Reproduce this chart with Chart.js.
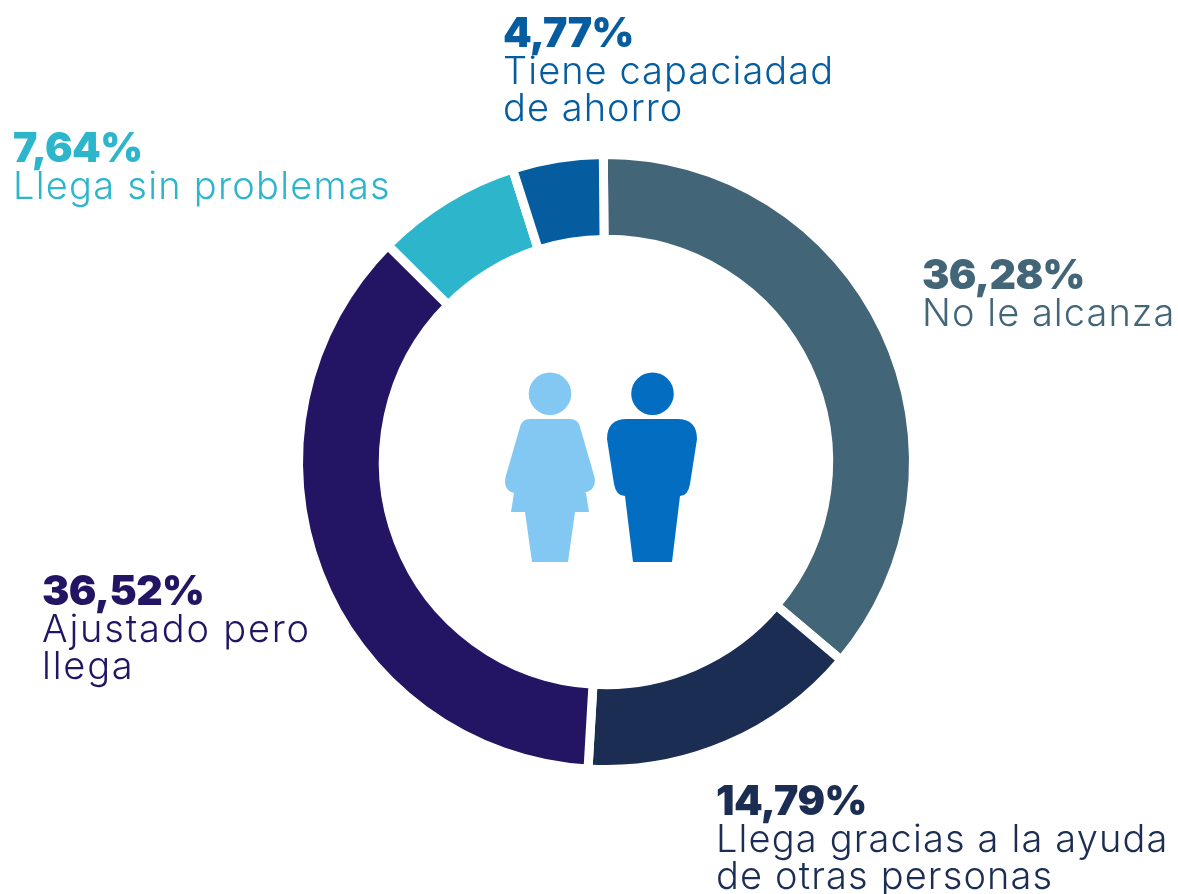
<!DOCTYPE html>
<html lang="es"><head><meta charset="utf-8">
<script src="https://cdn.jsdelivr.net/npm/chart.js@4/dist/chart.umd.min.js"></script>
<style>
html,body{margin:0;padding:0;background:#fff;width:1178px;height:894px;overflow:hidden}
#wrap{position:relative;width:1178px;height:894px}
canvas{position:absolute;left:0;top:0}
.lab{position:absolute;font-family:Inter,sans-serif;white-space:pre;line-height:37.5px}
.lab b{display:block;font-weight:900;font-size:41px;letter-spacing:-0.6px}
.lab span{display:block;font-weight:350;font-size:38px}
svg{position:absolute;left:0;top:0}
</style></head><body>
<div id="wrap"><canvas id="c" width="1178" height="894"></canvas>
<svg width="1178" height="894" viewBox="0 0 1178 894">
<g fill="#83C8F2"><circle cx="550" cy="393.7" r="21.3"/>
<path d="M530 419H570Q578 419 580 427L594.500 477Q597 490 584 493L586 493L589 512H575L568 562H532L525 512H511L514 493Q503 490 505.500 477L520 427Q522 419 530 419Z"/></g>
<g fill="#036DC1"><circle cx="652.5" cy="393.7" r="21.3"/>
<path d="M627 419H677Q697 419 697 439L690 484Q688 496 680 496L672 562H633L625 496Q616 496 614 484L607 439Q607 419 627 419Z"/></g>
</svg>
</div>
<script>
const categories=["No le alcanza","Llega gracias a la ayuda\nde otras personas","Ajustado pero\nllega","Llega sin problemas","Tiene capaciadad\nde ahorro"];
const values=[36.28,14.79,36.52,7.64,4.77];
const valueLabels=["36,28%","14,79%","36,52%","7,64%","4,77%"];
const colors=["#426678","#1C2D54","#231564","#2DB5CC","#055DA0"];
const labelLeft=[922,716,42,13,503];
const labelTop=[256,782,572,129,14];
const labelSpacing=[1.05,1.15,1.8,1.25,1.05];
new Chart(document.getElementById('c'),{
 type:'doughnut',
 data:{labels:categories,datasets:[{data:values,backgroundColor:colors,borderColor:'#fff',borderWidth:9,borderAlign:'center',hoverOffset:0}]},
 options:{responsive:false,animation:false,cutout:'72.4%',rotation:-0.5,
  layout:{padding:{left:294,right:260,top:150,bottom:120}},
  plugins:{legend:{display:false},tooltip:{enabled:false}}}
});
const wrap=document.getElementById('wrap');
categories.forEach((c,i)=>{
 const d=document.createElement('div');d.className='lab';
 d.style.left=labelLeft[i]+'px';d.style.top=labelTop[i]+'px';d.style.color=colors[i];
 const b=document.createElement('b');b.textContent=valueLabels[i];
 const s=document.createElement('span');s.textContent=c;s.style.letterSpacing=labelSpacing[i]+'px';
 d.append(b,s);wrap.append(d);
});
</script></body></html>
